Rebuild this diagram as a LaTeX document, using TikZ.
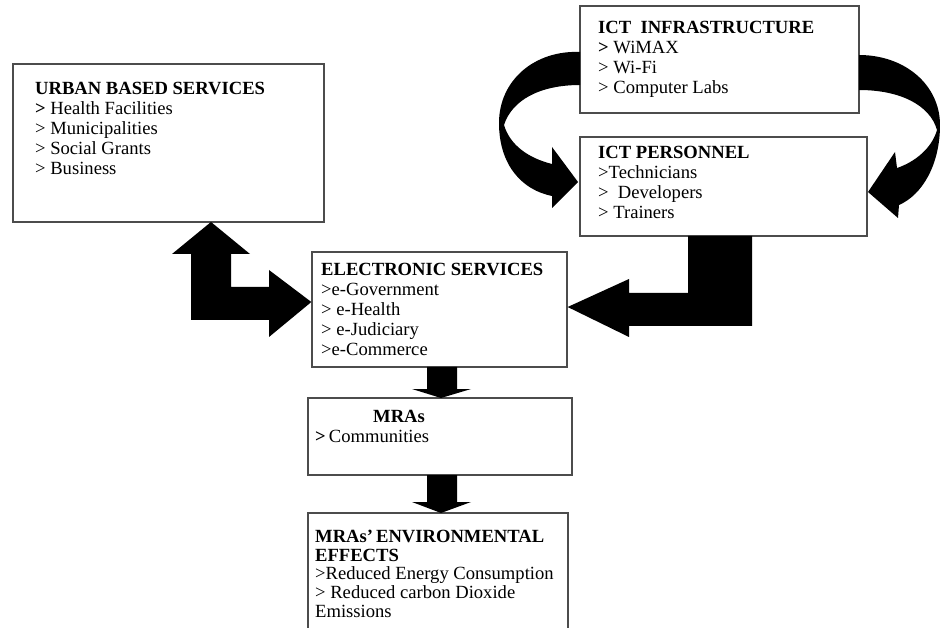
\documentclass[tikz,border=0pt]{standalone}
\usepackage{fontspec}
\setmainfont{Liberation Serif}
\usetikzlibrary{fit,calc}
\tikzset{
  box/.style={draw=black!70, line width=1.3pt, inner sep=0pt, fill=white},
  txt/.style={anchor=north west, inner sep=0pt, align=left, font=\fontsize{18.6}{20}\selectfont},
  txtenv/.style={anchor=north west, inner sep=0pt, align=left, font=\fontsize{18.6}{18.8}\selectfont},
  bigarrow/.style={fill=black, draw=none}
}
\newcommand{\fs}{\rule{0pt}{14pt}}
\begin{document}
\begin{tikzpicture}[x=1pt,y=-1pt]
\useasboundingbox (0,0) rectangle (940,628);
% boxes
\node[box, fit={(13,64) (324,222)}] (urban) {};
\node[box, fit={(580,6) (859,113)}] (infra) {};
\node[box, fit={(580,137) (867,236)}] (pers) {};
\node[box, fit={(312,252) (567,367)}] (elec) {};
\node[box, fit={(308,398) (572,475)}] (mras) {};
\node[box, fit={(308,513) (568,645)}] (env) {};
% texts
\node[txt] (urbanT) at (35,80) {\fs\textbf{URBAN BASED SERVICES}\\\textbf{>} Health Facilities\\> Municipalities\\> Social Grants\\> Business};
\node[txt] (infraT) at (598,19) {\fs\textbf{ICT\ \ INFRASTRUCTURE}\\\textbf{>} WiMAX\\> Wi-Fi\\> Computer Labs};
\node[txt] (persT) at (598,144) {\fs\textbf{ICT PERSONNEL}\\>Technicians\\>\ \ Developers\\> Trainers};
\node[txt] (elecT) at (321,261) {\fs\textbf{ELECTRONIC SERVICES}\\>e-Government\\> e-Health\\> e-Judiciary\\>e-Commerce};
\node[txt] (mrasT) at (315,408) {\fs\hspace{58pt}\textbf{MRAs}\\\textbf{>}\,Communities};
\node[txtenv] (envT) at (315,528) {\fs\textbf{MRAs’\,ENVIRONMENTAL}\\\textbf{EFFECTS}\\>Reduced Energy Consumption\\> Reduced carbon Dioxide\\Emissions};
% ICT personnel -> electronic services (L-shaped)
\fill[bigarrow] (688,236) -- (752,236) -- (752,326) -- (629,326) -- (629,337)
  -- (elec.east |- 0,307) -- (629,279) -- (629,293) -- (688,293) -- cycle;
% urban <-> electronic services (L-shaped, double headed)
\fill[bigarrow] (211,222) -- (250,254) -- (231,254) -- (231,287) -- (269,287) -- (269,270)
  -- (elec.west |- 0,302) -- (269,337) -- (269,320) -- (191,320) -- (191,254) -- (172,254) -- cycle;
% electronic -> MRAs
\fill[bigarrow] (427,367) -- (457,367) -- (457,389) -- (471,389) -- (441,398) -- (412,389) -- (427,389) -- cycle;
% MRAs -> environmental effects
\fill[bigarrow] (427,475) -- (457,475) -- (457,502) -- (471,502) -- (441,513) -- (412,502) -- (427,502) -- cycle;
% infrastructure -> personnel, left curved arrow
\fill[bigarrow] (580,52) .. controls (535,50) and (499,80) .. (499,123)
  .. controls (499,165) and (522,190) .. (552,196) -- (552,208) -- (578,182) -- (552,147) -- (552,164)
  .. controls (528,158) and (510,145) .. (504,125)
  .. controls (512,100) and (540,85) .. (580,85) -- cycle;
% infrastructure -> personnel, right curved arrow
\fill[bigarrow] (859,55) .. controls (905,55) and (940,85) .. (940,125)
  .. controls (940,165) and (922,195) .. (899,205) -- (898,218) -- (868,192) -- (895,152) -- (897,168)
  .. controls (915,162) and (932,148) .. (937,130)
  .. controls (930,105) and (900,90) .. (859,90) -- cycle;
\end{tikzpicture}
\end{document}
